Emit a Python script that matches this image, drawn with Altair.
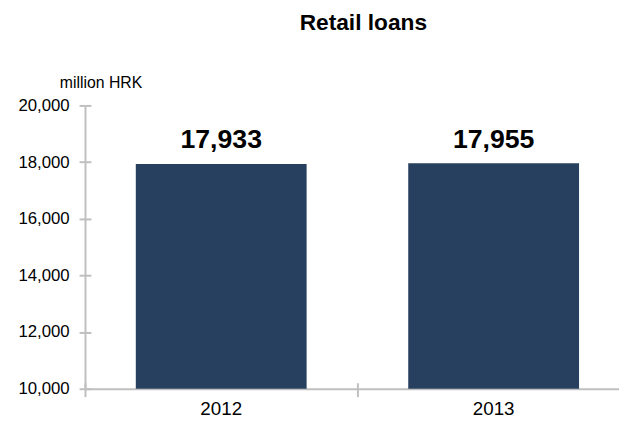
import altair as alt
import pandas as pd

years = ["2012", "2013"]
values = [17933, 17955]
labels = ["17,933", "17,955"]
y_ticks = [10000, 12000, 14000, 16000, 18000, 20000]

df = pd.DataFrame({"year": years, "value": values, "label": labels})

FONT = "Liberation Sans"
GREY = "#bfbfbf"

xscale = alt.Scale(paddingInner=0, paddingOuter=0)
yscale = alt.Scale(domain=[10000, 20000], clamp=True)

bars = alt.Chart(df).mark_bar(color="#27405F", width=alt.RelativeBandSize(0.627)).encode(
    x=alt.X("year:N", sort=years, scale=xscale,
            axis=alt.Axis(title=None, orient="bottom", labelAngle=0, labelFontSize=19,
                          labelColor="#000000", labelFont=FONT, labelPadding=3,
                          domainColor=GREY, domainWidth=2,
                          tickColor=GREY, tickWidth=2, tickSize=8, bandPosition=0,
                          grid=False)),
    y=alt.Y("value:Q", scale=yscale,
            axis=alt.Axis(values=y_ticks, orient="left",
                          format=",.0f", title="million HRK", titleAngle=0,
                          titleAlign="left", titleBaseline="alphabetic",
                          titleX=-26, titleY=-18, titleFont=FONT, titleFontSize=16,
                          titleFontWeight="normal", titleColor="#000000",
                          labelFont=FONT, labelFontSize=17, labelColor="#000000",
                          labelPadding=10, domainColor=GREY, domainWidth=2,
                          tickColor=GREY, tickWidth=2, tickSize=6, grid=False)),
)

text = alt.Chart(df).mark_text(font=FONT, fontSize=27, fontWeight="bold",
                               baseline="alphabetic", dy=-16, color="#000000").encode(
    x=alt.X("year:N", sort=years, scale=xscale,
            axis=alt.Axis(title=None, orient="bottom", labels=False, domain=False,
                          offset=-6, tickColor=GREY, tickWidth=2, tickSize=6,
                          bandPosition=0, grid=False)),
    y=alt.Y("value:Q", scale=yscale,
            axis=alt.Axis(values=y_ticks, orient="left", title=None, labels=False,
                          domain=False, offset=-6, tickColor=GREY, tickWidth=2,
                          tickSize=6, grid=False)),
    text="label:N",
)

chart = (bars + text).resolve_axis(x="independent", y="independent").properties(
    width=552, height=287,
    title=alt.Title("Retail loans", font=FONT, fontSize=23, fontWeight="bold",
                    color="#000000", anchor="middle", dx=6, offset=40),
    autosize=alt.AutoSizeParams(type="none"),
    padding={"left": 78, "top": 96, "right": -11, "bottom": 31},
).configure_view(stroke=None)

chart.save("out.html", embed_options={"renderer": "svg", "actions": False})
